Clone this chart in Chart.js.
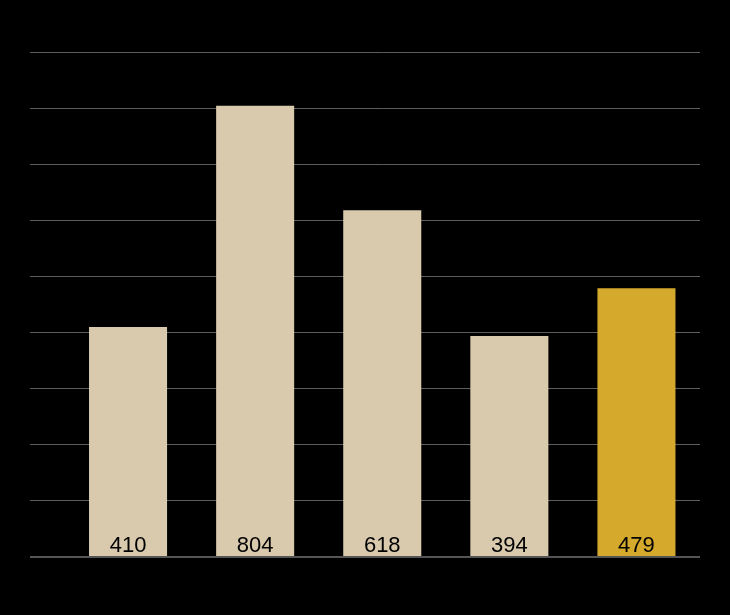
<!DOCTYPE html>
<html lang="en">
<head>
    <meta charset="UTF-8">
    <title>Bar chart</title>
    <script src="https://cdn.jsdelivr.net/npm/chart.js"></script>
    <style>
        html, body { margin: 0; padding: 0; background: #000; }
        #wrap { width: 730px; height: 615px; }
    </style>
</head>
<body>
    <div id="wrap"><canvas id="barChart"></canvas></div>

    <script>
        // data
        const categories = ['1', '2', '3', '4', '5'];
        const values = [410, 804, 618, 394, 479];
        const barColors = ['#D9CAAE', '#D9CAAE', '#D9CAAE', '#D9CAAE', '#D4A92C'];
        const yMax = 900;
        const yStep = 100;

        // value labels sit inside the bars, near the baseline
        const valueLabels = {
            id: 'valueLabels',
            afterDatasetsDraw(chart) {
                const ctx = chart.ctx;
                const meta = chart.getDatasetMeta(0);
                const base = chart.scales.y.getPixelForValue(0);
                ctx.save();
                ctx.font = '22px "Liberation Sans", Arial, sans-serif';
                ctx.fillStyle = '#000';
                ctx.textAlign = 'center';
                ctx.textBaseline = 'alphabetic';
                meta.data.forEach((bar, i) => {
                    ctx.fillText(String(values[i]), bar.x, base - 5);
                });
                ctx.restore();
            }
        };

        function createBarChart() {
            const ctx = document.getElementById('barChart').getContext('2d');
            new Chart(ctx, {
                type: 'bar',
                data: {
                    labels: categories,
                    datasets: [{
                        data: values,
                        backgroundColor: barColors,
                        borderWidth: 0,
                        barPercentage: 0.614,
                        categoryPercentage: 1.0
                    }]
                },
                options: {
                    responsive: true,
                    maintainAspectRatio: false,
                    animation: false,
                    layout: { padding: { top: 52, right: 30, bottom: 58, left: 30 } },
                    plugins: {
                        legend: { display: false },
                        tooltip: { enabled: false }
                    },
                    scales: {
                        x: {
                            grid: { display: false, drawTicks: false },
                            border: { display: false },
                            ticks: { display: false }
                        },
                        y: {
                            min: 0,
                            max: yMax,
                            ticks: { display: false, stepSize: yStep },
                            grid: {
                                color: (c) => c.tick && c.tick.value === 0 ? '#555' : '#5e5e5e',
                                lineWidth: (c) => c.tick && c.tick.value === 0 ? 2 : 1,
                                drawTicks: true,
                                tickLength: 34.5
                            },
                            border: { display: false }
                        }
                    }
                },
                plugins: [valueLabels]
            });
        }
        createBarChart();
    </script>
</body>
</html>
